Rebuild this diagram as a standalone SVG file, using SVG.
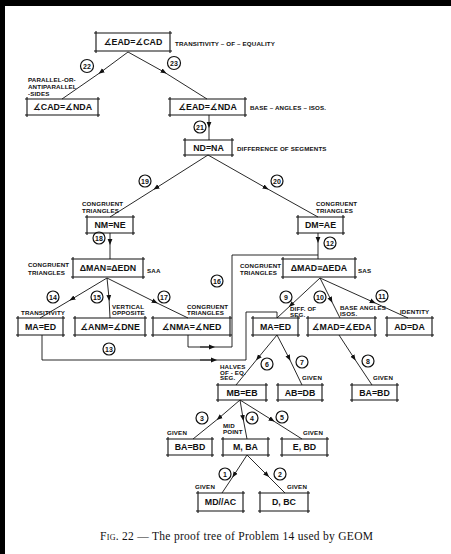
<svg xmlns="http://www.w3.org/2000/svg" width="451" height="554" viewBox="0 0 451 554">
<defs>
<style>
.bx{fill:none;stroke:#111;stroke-width:1.1}
.bt{font-family:"Liberation Sans","DejaVu Sans",sans-serif;font-weight:bold;font-size:8.8px;fill:#111;text-anchor:middle}
.lb{font-family:"Liberation Sans","DejaVu Sans",sans-serif;font-weight:bold;font-size:6.2px;letter-spacing:0.15px;fill:#111}
.cn{fill:none;stroke:#111;stroke-width:0.9}
.cc{fill:#fff;stroke:#111;stroke-width:1.2}
.ct{font-family:"Liberation Sans","DejaVu Sans",sans-serif;font-weight:bold;font-size:7px;fill:#111;text-anchor:middle}
.cap{font-family:"Liberation Serif","DejaVu Serif",serif;font-size:11.5px;fill:#111}
</style>
<marker id="ah" viewBox="0 0 10 10" refX="5" refY="5" markerWidth="6" markerHeight="6" markerUnits="userSpaceOnUse" orient="auto">
<path d="M0,1 L10,5 L0,9 z" fill="#111"/>
</marker>
</defs>
<rect width="451" height="554" fill="#fff"/>
<rect x="0" y="0" width="5" height="554" fill="#000"/>
<rect x="0" y="0" width="451" height="6" fill="#000"/>

<g id="connectors">
<path class="cn" marker-mid="url(#ah)" d="M128,52 L101,72 L62,99"/>
<path class="cn" marker-mid="url(#ah)" d="M128,52 L164,72 L207,99"/>
<path class="cn" marker-mid="url(#ah)" d="M209,115 L209,125 L209,140"/>
<path class="cn" marker-mid="url(#ah)" d="M208,155 L156,188 L110,217"/>
<path class="cn" marker-mid="url(#ah)" d="M208,155 L266,188 L318,217"/>
<path class="cn" marker-mid="url(#ah)" d="M110,233 L110,242 L110,259"/>
<path class="cn" marker-mid="url(#ah)" d="M318,233 L318,240 L318,259"/>
<path class="cn" marker-mid="url(#ah)" d="M107,278 L72,299 L40,318"/>
<path class="cn" marker-mid="url(#ah)" d="M107,278 L109,298 L110,318"/>
<path class="cn" marker-mid="url(#ah)" d="M107,278 L155,302 L188,318"/>
<path class="cn" d="M188,335 V347 H232 V255 H318"/>
<path class="cn" marker-end="url(#ah)" d="M200,347 L212,347"/>
<path class="cn" d="M42,335 V360 H246 V312 H277 V318"/>
<path class="cn" marker-end="url(#ah)" d="M200,360 L214,360"/>
<path class="cn" marker-mid="url(#ah)" d="M320,278 L291,305 L277,318"/>
<path class="cn" marker-mid="url(#ah)" d="M320,278 L331,300 L340,318"/>
<path class="cn" marker-mid="url(#ah)" d="M320,278 L373,302 L408,318"/>
<path class="cn" marker-mid="url(#ah)" d="M277,335 L258,358 L236,385"/>
<path class="cn" marker-mid="url(#ah)" d="M277,335 L289,358 L302,385"/>
<path class="cn" marker-mid="url(#ah)" d="M339,335 L354,358 L372,385"/>
<path class="cn" marker-mid="url(#ah)" d="M240,400 L219,418 L193,439"/>
<path class="cn" marker-mid="url(#ah)" d="M240,400 L243,418 L247,439"/>
<path class="cn" marker-mid="url(#ah)" d="M240,400 L272,420 L302,439"/>
<path class="cn" marker-mid="url(#ah)" d="M247,455 L234,475 L222,493"/>
<path class="cn" marker-mid="url(#ah)" d="M247,455 L267,475 L285,493"/>
<g>
<circle class="cc" cx="87" cy="66" r="6.5"/><text class="ct" x="87" y="68.5">22</text>
<circle class="cc" cx="174" cy="63" r="6.5"/><text class="ct" x="174" y="65.5">23</text>
<circle class="cc" cx="200" cy="127" r="6"/><text class="ct" x="200" y="129.5">21</text>
<circle class="cc" cx="145" cy="181" r="6"/><text class="ct" x="145" y="183.5">19</text>
<circle class="cc" cx="277" cy="181" r="6"/><text class="ct" x="277" y="183.5">20</text>
<circle class="cc" cx="99" cy="238" r="6"/><text class="ct" x="99" y="240.5">18</text>
<circle class="cc" cx="330" cy="243" r="6"/><text class="ct" x="330" y="245.5">12</text>
<circle class="cc" cx="53" cy="297" r="6"/><text class="ct" x="53" y="299.5">14</text>
<circle class="cc" cx="97" cy="297" r="6"/><text class="ct" x="97" y="299.5">15</text>
<circle class="cc" cx="164" cy="297" r="6"/><text class="ct" x="164" y="299.5">17</text>
<circle class="cc" cx="217" cy="281" r="6"/><text class="ct" x="217" y="283.5">16</text>
<circle class="cc" cx="109" cy="349" r="6"/><text class="ct" x="109" y="351.5">13</text>
<circle class="cc" cx="286" cy="297" r="6"/><text class="ct" x="286" y="299.5">9</text>
<circle class="cc" cx="320" cy="297" r="6"/><text class="ct" x="320" y="299.5">10</text>
<circle class="cc" cx="382" cy="296" r="6"/><text class="ct" x="382" y="298.5">11</text>
<circle class="cc" cx="267" cy="364" r="6"/><text class="ct" x="267" y="366.5">6</text>
<circle class="cc" cx="302" cy="362" r="6"/><text class="ct" x="302" y="364.5">7</text>
<circle class="cc" cx="368" cy="361" r="6"/><text class="ct" x="368" y="363.5">8</text>
<circle class="cc" cx="202" cy="418" r="6"/><text class="ct" x="202" y="420.5">3</text>
<circle class="cc" cx="252" cy="418" r="6"/><text class="ct" x="252" y="420.5">4</text>
<circle class="cc" cx="282" cy="417" r="6"/><text class="ct" x="282" y="419.5">5</text>
<circle class="cc" cx="225" cy="474" r="6"/><text class="ct" x="225" y="476.5">1</text>
<circle class="cc" cx="280" cy="474" r="6"/><text class="ct" x="280" y="476.5">2</text>
</g>
</g>

<g id="n1"><path class="bx" d="M94,33H172M94,51H172M96,31V53M170,31V53"/><text class="bt" x="133" y="45">∡EAD=∡CAD</text>
<text class="lb" x="175" y="46">TRANSITIVITY – OF – EQUALITY</text></g>
<g id="n2"><path class="bx" d="M25,99H100M25,115H100M27,97V117M98,97V117"/><text class="bt" x="62.5" y="110">∡CAD=∡NDA</text>
<text class="lb" x="28" y="82">PARALLEL-OR-</text><text class="lb" x="28" y="88.5">ANTIPARALLEL</text><text class="lb" x="28" y="95.5">-SIDES</text></g>
<g id="n3"><path class="bx" d="M168,99H247M168,115H247M170,97V117M245,97V117"/><text class="bt" x="207.5" y="110">∡EAD=∡NDA</text>
<text class="lb" x="250" y="110">BASE – ANGLES – ISOS.</text></g>
<g id="n4"><path class="bx" d="M183,140H234M183,155H234M185,138V157M232,138V157"/><text class="bt" x="208.5" y="151">ND=NA</text>
<text class="lb" x="237" y="151">DIFFERENCE OF SEGMENTS</text></g>
<g id="n5"><path class="bx" d="M85,217H135M85,233H135M87,215V235M133,215V235"/><text class="bt" x="110" y="228">NM=NE</text>
<text class="lb" x="82" y="206">CONGRUENT</text><text class="lb" x="82" y="212.5">TRIANGLES</text></g>
<g id="n6"><path class="bx" d="M296,217H345M296,233H345M298,215V235M343,215V235"/><text class="bt" x="320.5" y="228">DM=AE</text>
<text class="lb" x="316" y="206">CONGRUENT</text><text class="lb" x="316" y="212.5">TRIANGLES</text></g>
<g id="n7"><path class="bx" d="M71,259H145M71,277H145M73,257V279M143,257V279"/><text class="bt" x="108" y="271">ΔMAN≡ΔEDN</text>
<text class="lb" x="28" y="267">CONGRUENT</text><text class="lb" x="28" y="275">TRIANGLES</text><text class="lb" x="147" y="273">SAA</text></g>
<g id="n8"><path class="bx" d="M281,259H357M281,277H357M283,257V279M355,257V279"/><text class="bt" x="319" y="271">ΔMAD≡ΔEDA</text>
<text class="lb" x="240" y="268">CONGRUENT</text><text class="lb" x="240" y="275">TRIANGLES</text><text class="lb" x="358" y="273">SAS</text></g>
<g id="n9"><path class="bx" d="M16,318H65M16,335H65M18,316V337M63,316V337"/><text class="bt" x="40.5" y="330">MA=ED</text>
<text class="lb" x="21" y="315">TRANSITIVITY</text></g>
<g id="n10"><path class="bx" d="M73,318H147M73,335H147M75,316V337M145,316V337"/><text class="bt" x="110" y="330">∡ANM=∡DNE</text>
<text class="lb" x="112" y="309">VERTICAL</text><text class="lb" x="112" y="315">OPPOSITE</text></g>
<g id="n11"><path class="bx" d="M151,318H232M151,335H232M153,316V337M230,316V337"/><text class="bt" x="191.5" y="330">∡NMA=∡NED</text>
<text class="lb" x="187" y="309">CONGRUENT</text><text class="lb" x="187" y="315">TRIANGLES</text></g>
<g id="n12"><path class="bx" d="M251,318H300M251,335H300M253,316V337M298,316V337"/><text class="bt" x="275.5" y="330">MA=ED</text>
<text class="lb" x="290" y="311">DIFF. OF</text><text class="lb" x="290" y="316.5">SEG.</text></g>
<g id="n13"><path class="bx" d="M306,318H377M306,335H377M308,316V337M375,316V337"/><text class="bt" x="341.5" y="330">∡MAD=∡EDA</text>
<text class="lb" x="340" y="310">BASE ANGLES</text><text class="lb" x="340" y="316">ISOS.</text></g>
<g id="n14"><path class="bx" d="M385,318H434M385,335H434M387,316V337M432,316V337"/><text class="bt" x="409.5" y="330">AD=DA</text>
<text class="lb" x="400" y="314">IDENTITY</text></g>
<g id="n15"><path class="bx" d="M216,385H268M216,400H268M218,383V402M266,383V402"/><text class="bt" x="242" y="396">MB=EB</text>
<text class="lb" x="220" y="369">HALVES</text><text class="lb" x="220" y="374.5">OF - EQ.</text><text class="lb" x="220" y="380">SEG.</text></g>
<g id="n16"><path class="bx" d="M276,385H324M276,400H324M278,383V402M322,383V402"/><text class="bt" x="300" y="396">AB=DB</text>
<text class="lb" x="302" y="380">GIVEN</text></g>
<g id="n17"><path class="bx" d="M350,385H399M350,400H399M352,383V402M397,383V402"/><text class="bt" x="374.5" y="396">BA=BD</text>
<text class="lb" x="373" y="380">GIVEN</text></g>
<g id="n18"><path class="bx" d="M166,439H214M166,455H214M168,437V457M212,437V457"/><text class="bt" x="190" y="450">BA=BD</text>
<text class="lb" x="167" y="435">GIVEN</text></g>
<g id="n19"><path class="bx" d="M221,439H270M221,455H270M223,437V457M268,437V457"/><text class="bt" x="245.5" y="450">M, BA</text>
<text class="lb" x="223" y="428">MID</text><text class="lb" x="223" y="434">POINT</text></g>
<g id="n20"><path class="bx" d="M280,439H329M280,455H329M282,437V457M327,437V457"/><text class="bt" x="304.5" y="450">E, BD</text>
<text class="lb" x="303" y="435">GIVEN</text></g>
<g id="n21"><path class="bx" d="M196,493H245M196,511H245M198,491V513M243,491V513"/><text class="bt" x="220.5" y="505">MD//AC</text>
<text class="lb" x="195" y="489">GIVEN</text></g>
<g id="n22"><path class="bx" d="M258,493H310M258,511H310M260,491V513M308,491V513"/><text class="bt" x="284" y="505">D, BC</text>
<text class="lb" x="287" y="489">GIVEN</text></g>

<text class="cap" x="100" y="540" textLength="273" lengthAdjust="spacing"><tspan style="font-variant:small-caps">Fig.</tspan> 22 — The proof tree of Problem 14 used by GEOM</text>
</svg>
